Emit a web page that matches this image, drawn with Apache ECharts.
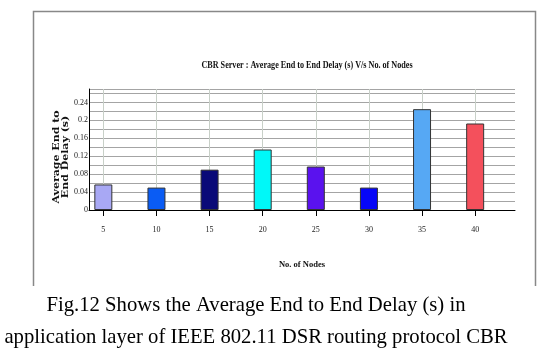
<!DOCTYPE html>
<html>
<head>
<meta charset="utf-8">
<script src="https://cdn.jsdelivr.net/npm/echarts@6/dist/echarts.min.js"></script>
<style>
html,body{margin:0;padding:0;background:#fff;}
#chart{width:552px;height:363px;}
</style>
</head>
<body>
<div id="chart"></div>
<script>
var categories = [5, 10, 15, 20, 25, 30, 35, 40];
var delayValues = [0.057, 0.050, 0.090, 0.135, 0.097, 0.050, 0.225, 0.193];
var barColors = ['#a8a8f4', '#0a5cf4', '#0a0a78', '#00f8f8', '#5a12ee', '#0606f8', '#56a8f4', '#f4505c'];
var yTickValues = [0, 0.04, 0.08, 0.12, 0.16, 0.2, 0.24];
var yTickLabels = ['0', '0.04', '0.08', '0.12', '0.16', '0.2', '0.24'];
var chartTitle = 'CBR Server : Average End to End Delay (s) V/s No. of Nodes';
var yAxisName = 'Average End to\nEnd Delay (s)';
var xAxisName = 'No. of Nodes';
var captionLines = ['Fig.12 Shows the Average End to End Delay (s) in', 'application layer of IEEE 802.11 DSR routing protocol CBR'];

var chart = echarts.init(document.getElementById('chart'));
var barData = categories.map(function (c, i) {
  return { value: [c, delayValues[i]], itemStyle: { color: barColors[i] } };
});
chart.setOption({
  animation: false,
  backgroundColor: '#fff',
  grid: { left: 89, right: 37, top: 89, bottom: 153 },
  xAxis: {
    type: 'value',
    min: 3.65,
    max: 43.75,
    name: xAxisName,
    nameLocation: 'middle',
    nameGap: 50,
    nameTextStyle: { fontFamily: 'Liberation Serif', fontWeight: 'bold', fontSize: 8.5, color: '#111' },
    axisLine: { show: true, onZero: false, lineStyle: { color: '#000', width: 1 } },
    axisTick: { show: true, customValues: categories, length: 6, lineStyle: { color: '#000' } },
    axisLabel: {
      customValues: categories, margin: 16,
      fontFamily: 'Liberation Serif', fontSize: 8, color: '#222'
    },
    splitLine: { show: true, lineStyle: { color: '#c8d0c8', width: 1 } }
  },
  yAxis: {
    type: 'value',
    min: 0,
    max: 0.27,
    interval: 0.02,
    axisLine: { show: true, lineStyle: { color: '#000', width: 1 } },
    axisTick: { show: false },
    axisLabel: {
      customValues: yTickValues, margin: 1,
      fontFamily: 'Liberation Serif', fontSize: 8, color: '#222',
      formatter: function (v) {
        var i = yTickValues.findIndex(function (t) { return Math.abs(t - v) < 1e-6; });
        return i >= 0 ? yTickLabels[i] : '';
      }
    },
    splitLine: { show: true, lineStyle: { color: '#a4a4a4', width: 1 } }
  },
  series: [{
    type: 'bar',
    data: barData,
    barWidth: 18,
    itemStyle: { borderColor: '#333', borderWidth: 1 }
  }],
  graphic: [
    { type: 'polyline', shape: { points: [[33.5, 286], [33.5, 11.5], [535.5, 11.5], [535.5, 286]] },
      style: { stroke: '#888', lineWidth: 1.5, fill: null } },
    { type: 'text', x: 307, y: 65, scaleX: 0.74,
      style: { text: chartTitle, font: 'bold 11px "Liberation Serif"', fill: '#111', textAlign: 'center', textVerticalAlign: 'middle' } },
    { type: 'text', x: 61, y: 157, rotation: Math.PI / 2, scaleX: 1.22,
      style: { text: yAxisName, font: 'bold 9px "DejaVu Serif"', lineHeight: 8.5, fill: '#111', textAlign: 'center', textVerticalAlign: 'middle' } },
    { type: 'text', x: 256, y: 306,
      style: { text: captionLines[0], font: '20.7px "Liberation Serif"', fill: '#000', textAlign: 'center', textVerticalAlign: 'middle' } },
    { type: 'text', x: 256, y: 338,
      style: { text: captionLines[1], font: '20.7px "Liberation Serif"', fill: '#000', textAlign: 'center', textVerticalAlign: 'middle' } }
  ]
});
</script>
</body>
</html>
